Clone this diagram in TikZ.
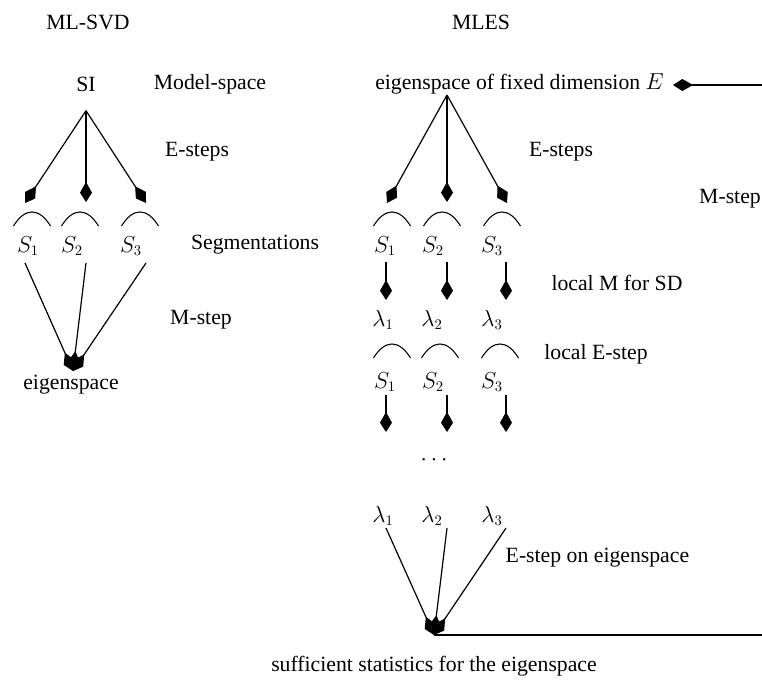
\documentclass[tikz,border=0pt]{standalone}
\usepackage{amsmath}
\usepackage{amssymb}
\usepackage{fontspec}
\setmainfont{Liberation Serif}
\usetikzlibrary{arrows.meta}

\tikzset{
  kite/.style={-{Kite[length=15pt,width=9pt,inset=8pt]}},
  flow/.style={draw,line width=0.9pt,kite},
  bump/.pic={\draw[line width=0.8pt] (-18.5,7) .. controls (-7,-11.7) and (7,-11.7) .. (18.5,7);},
}

\begin{document}
\begin{tikzpicture}[x=0.75pt,y=-0.75pt,font=\fontsize{16.3}{19}\selectfont]
  \useasboundingbox (0,0) rectangle (762,679);
  %% ML-SVD
  \node (mlsvd) at (88,22) {ML-SVD};
  \node (si) at (86,84) {SI};
  \node (modsp) at (210,84) {Model-space};
  \node (lest) at (197,152) {E-steps};
  \coordinate (la1) at (25,203); % tips
  \coordinate (la2) at (86,202);
  \coordinate (la3) at (146,203);
  \pic at (32,219) {bump};
  \pic at (80,219) {bump};
  \pic at (140,219) {bump};
  \node (ls1) at (28,246) {$S_1$};
  \node (ls2) at (72,246) {$S_2$};
  \node (ls3) at (131,246) {$S_3$};
  \node (lseg) at (255,245) {Segmentations};
  \node (lmst) at (201,320) {M-step};
  \coordinate (lt1) at (25,263); % line starts
  \coordinate (lt2) at (86,263);
  \coordinate (lt3) at (146,263);
  \coordinate (lb) at (73,371);
  \node (leig) at (71,385) {eigenspace};
  \foreach \i in {1,2,3}{
    \draw[flow] ([yshift=-11]si.south) -- (la\i);
    \draw[flow] (lt\i) -- (lb);
  }
  %% MLES
  \node (mles) at (481,22) {MLES};
  \node[anchor=west,inner sep=0pt] (fix) at (375,84) {eigenspace of fixed dimension $E$};
  \coordinate (rin) at (762,85); % right border
  \coordinate (rtip) at (673,85);
  \draw[flow] (rin) -- (rtip);
  \coordinate (rapex) at (447,95);
  \node (rest) at (561,152) {E-steps};
  \node (rmst) at (730,199) {M-step};
  \coordinate (ra1) at (387,203);
  \coordinate (ra2) at (447,202);
  \coordinate (ra3) at (507,203);
  \pic at (392,219) {bump};
  \pic at (442,219) {bump};
  \pic at (502,219) {bump};
  \node (rs1) at (385,246) {$S_1$};
  \node (rs2) at (433,246) {$S_2$};
  \node (rs3) at (492,246) {$S_3$};
  \node (locm) at (617,283) {local M for SD};
  \node (rl1) at (383,320) {$\lambda_1$};
  \node (rl2) at (432,320) {$\lambda_2$};
  \node (rl3) at (492,320) {$\lambda_3$};
  \pic at (392,351) {bump};
  \pic at (440,351) {bump};
  \pic at (500,351) {bump};
  \node (loce) at (596,354) {local E-step};
  \node (rt1) at (385,382) {$S_1$};
  \node (rt2) at (433,382) {$S_2$};
  \node (rt3) at (492,382) {$S_3$};
  \node (dots) at (436,460) {$\cdots$};
  \node (rm1) at (383,516) {$\lambda_1$};
  \node (rm2) at (432,516) {$\lambda_2$};
  \node (rm3) at (492,516) {$\lambda_3$};
  \node[anchor=west] (eeig) at (501,558) {E-step on eigenspace};
  \coordinate (rb) at (434,635);
  \coordinate (rout) at (762,635);
  \node (suff) at (434,666) {sufficient statistics for the eigenspace};
  \foreach \i/\x in {1/386,2/447,3/506}{
    \draw[flow] (rapex) -- (ra\i);
    \draw[flow] (\x,262) -- (\x,300);
    \draw[flow] (\x,395) -- (\x,432);
    \draw[flow] (\x,528) -- (rb);
  }
  \draw[line width=0.9pt] (rb) -- (rout);
\end{tikzpicture}
\end{document}
